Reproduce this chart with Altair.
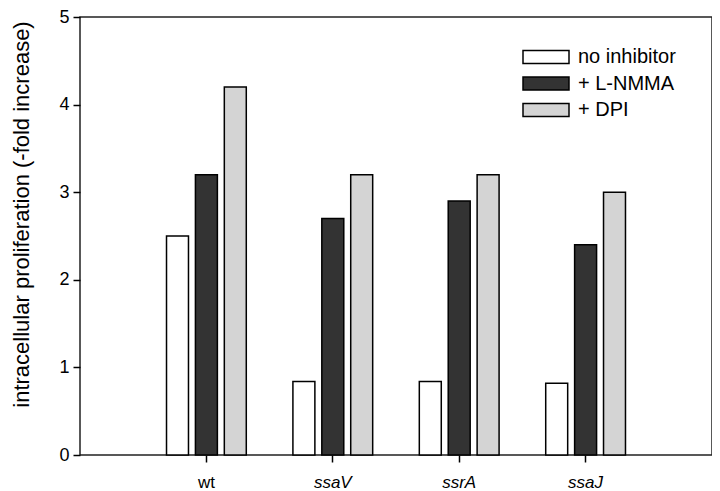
import altair as alt
import pandas as pd

strains = ["wt", "ssaV", "ssrA", "ssaJ"]
conditions = ["no inhibitor", "+ L-NMMA", "+ DPI"]
no_inhibitor = [2.5, 0.84, 0.84, 0.82]
l_nmma = [3.2, 2.7, 2.9, 2.4]
dpi = [4.2, 3.2, 3.2, 3.0]
colors = ["#ffffff", "#333333", "#d4d4d4"]

rows = []
for series_name, vals in zip(conditions, [no_inhibitor, l_nmma, dpi]):
    for s, v in zip(strains, vals):
        rows.append({"strain": s, "cond": series_name, "value": v})
df = pd.DataFrame(rows)

FONT = "Liberation Sans"

chart = alt.Chart(df).mark_bar(stroke="black", strokeWidth=1.5).encode(
    x=alt.X(
        "strain:N",
        sort=strains,
        scale=alt.Scale(paddingInner=0.314, paddingOuter=0.657),
        axis=alt.Axis(
            title=None,
            labelAngle=0,
            labelFontSize=17,
            labelPadding=12,
            tickSize=7,
            tickColor="black",
            tickWidth=1.5,
            domain=False,
            labelColor="black",
            labelFontStyle=alt.ExprRef(expr="datum.value == 'wt' ? 'normal' : 'italic'"),
        ),
    ),
    xOffset=alt.XOffset(
        "cond:N",
        sort=conditions,
        scale=alt.Scale(paddingInner=0.24, paddingOuter=0.12),
    ),
    y=alt.Y(
        "value:Q",
        scale=alt.Scale(domain=[0, 5], nice=False),
        axis=alt.Axis(
            title="intracellular proliferation (-fold increase)",
            values=[0, 1, 2, 3, 4, 5],
            grid=False,
            domain=False,
            tickSize=7,
            tickColor="black",
            tickWidth=1.5,
            labelFontSize=18,
            labelPadding=4,
            labelColor="black",
            titleFontSize=22,
            titleFontWeight="normal",
            titleColor="black",
            titlePadding=25,
            titleY=197,
        ),
    ),
    fill=alt.Fill(
        "cond:N",
        sort=conditions,
        scale=alt.Scale(domain=conditions, range=colors),
        legend=alt.Legend(
            title=None,
            orient="none",
            legendX=442,
            legendY=29,
            padding=0,
            symbolType="M-1,-0.283L1,-0.283L1,0.283L-1,0.283Z",
            symbolSize=2116,
            symbolStrokeColor="black",
            symbolStrokeWidth=1.5,
            symbolOpacity=1,
            labelFontSize=20,
            labelColor="black",
            labelOffset=8,
            clipHeight=22,
            rowPadding=4.5,
        ),
    ),
).properties(
    width=632,
    height=438,
    autosize=alt.AutoSizeParams(type="none"),
    padding={"left": 72, "top": 9, "right": 0, "bottom": 36},
).configure(
    font=FONT,
).configure_view(
    stroke="#222222",
    strokeWidth=1.5,
)

chart.save("out.html", embed_options={"renderer": "svg", "actions": False})
